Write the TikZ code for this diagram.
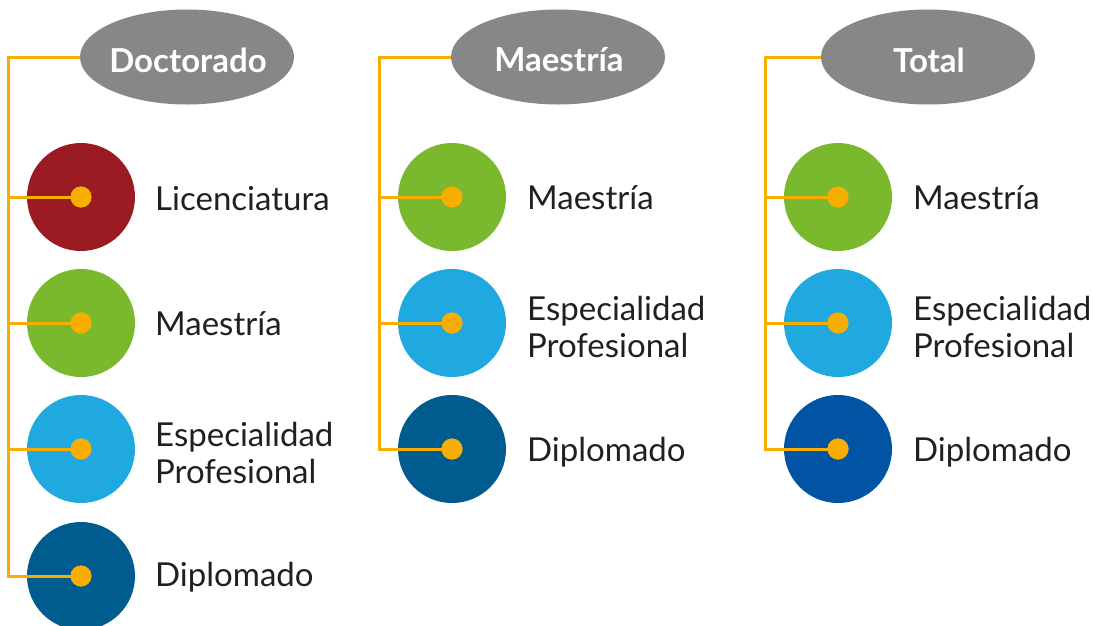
\documentclass[tikz,border=0pt]{standalone}
\usepackage{fontspec}
\setmainfont{Lato}
\usetikzlibrary{shapes.geometric}
\definecolor{hdr}{HTML}{878787}
\definecolor{orng}{HTML}{F7AE00}
\definecolor{cred}{HTML}{9B1B22}
\definecolor{cgreen}{HTML}{7AB92D}
\definecolor{clblue}{HTML}{20A8E0}
\definecolor{cdblue}{HTML}{005B8E}
\definecolor{croyal}{HTML}{0054A3}
\definecolor{txt}{HTML}{231F20}
\tikzset{
  header/.style={ellipse, fill=hdr, minimum width=214pt, minimum height=95pt, inner sep=0pt,
    text=white, font=\fontsize{33}{38}\selectfont\bfseries},
  hdrtext/.style={text=white, inner sep=0pt, font=\fontsize{33}{38}\selectfont\bfseries},
  bigcirc/.style={circle, minimum size=108pt, inner sep=0pt},
  dot/.style={circle, fill=orng, minimum size=21pt, inner sep=0pt},
  conn/.style={draw=orng, line width=3pt},
  lbl/.style={anchor=west, align=left, inner sep=0pt, text=txt, font=\fontsize{33}{37}\selectfont}
}
\begin{document}
\begin{tikzpicture}[x=1pt,y=-1pt]
\useasboundingbox (0,0) rectangle (1093,625);
% ---------- column 1 ----------
\node[header] (h1) at (187,57) {};
\node[hdrtext] at (188,60) {Doctorado};
\node[bigcirc, fill=cred]   (a1) at (81,197) {};
\node[bigcirc, fill=cgreen] (a2) at (81,323) {};
\node[bigcirc, fill=clblue] (a3) at (81,449) {};
\node[bigcirc, fill=cdblue] (a4) at (81,576) {};
\coordinate (v1top) at (8,57);
\coordinate (v1bot) at (8,576);
\node[dot] (ad1) at (a1.center) {};
\node[dot] (ad2) at (a2.center) {};
\node[dot] (ad3) at (a3.center) {};
\node[dot] (ad4) at (a4.center) {};
\draw[conn] (h1.west) -- (v1top) -- (v1bot) -- (ad4.center);
\draw[conn] (v1top |- ad1) -- (ad1.center);
\draw[conn] (v1top |- ad2) -- (ad2.center);
\draw[conn] (v1top |- ad3) -- (ad3.center);
\foreach \n in {ad1,ad2,ad3,ad4} \node[dot] at (\n) {};
\node[lbl] (t1) at (155,199) {Licenciatura};
\node[lbl] (t2) at (155,324) {Maestría};
\node[lbl] (t3) at (155,453) {Especialidad\\Profesional};
\node[lbl] (t4) at (155,577) {Diplomado};
% ---------- column 2 ----------
\node[header] (h2) at (558,57) {};
\node[hdrtext] at (559,60) {Maestría};
\node[bigcirc, fill=cgreen] (b1) at (452,197) {};
\node[bigcirc, fill=clblue] (b2) at (452,323) {};
\node[bigcirc, fill=cdblue] (b3) at (452,449) {};
\coordinate (v2top) at (379,57);
\node[dot] (bd1) at (b1.center) {};
\node[dot] (bd2) at (b2.center) {};
\node[dot] (bd3) at (b3.center) {};
\draw[conn] (h2.west) -- (v2top) -- (v2top |- bd3) -- (bd3.center);
\draw[conn] (v2top |- bd1) -- (bd1.center);
\draw[conn] (v2top |- bd2) -- (bd2.center);
\foreach \n in {bd1,bd2,bd3} \node[dot] at (\n) {};
\node[lbl] (u1) at (527,198) {Maestría};
\node[lbl] (u2) at (527,327) {Especialidad\\Profesional};
\node[lbl] (u3) at (527,452) {Diplomado};
% ---------- column 3 ----------
\node[header] (h3) at (928,57) {};
\node[hdrtext] at (929,60) {Total};
\node[bigcirc, fill=cgreen] (c1) at (838,197) {};
\node[bigcirc, fill=clblue] (c2) at (838,323) {};
\node[bigcirc, fill=croyal] (c3) at (838,449) {};
\coordinate (v3top) at (765,57);
\node[dot] (cd1) at (c1.center) {};
\node[dot] (cd2) at (c2.center) {};
\node[dot] (cd3) at (c3.center) {};
\draw[conn] (h3.west) -- (v3top) -- (v3top |- cd3) -- (cd3.center);
\draw[conn] (v3top |- cd1) -- (cd1.center);
\draw[conn] (v3top |- cd2) -- (cd2.center);
\foreach \n in {cd1,cd2,cd3} \node[dot] at (\n) {};
\node[lbl] (w1) at (913,198) {Maestría};
\node[lbl] (w2) at (913,327) {Especialidad\\Profesional};
\node[lbl] (w3) at (913,452) {Diplomado};
\end{tikzpicture}
\end{document}
